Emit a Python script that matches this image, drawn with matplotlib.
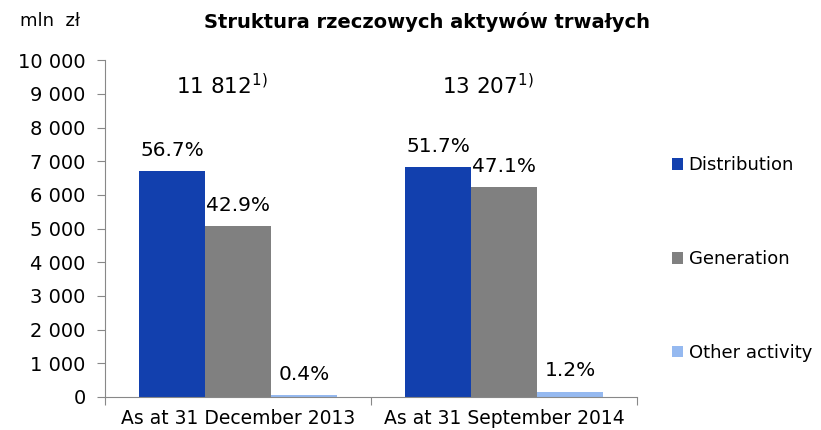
import numpy as np
import matplotlib.pyplot as plt

categories = ['As at 31 December 2013', 'As at 31 September 2014']
totals = ['11 812', '13 207']
series = ['Distribution', 'Generation', 'Other activity']
shares = {
    'Distribution': [56.7, 51.7],
    'Generation': [42.9, 47.1],
    'Other activity': [0.4, 1.2],
}
total_values = [11812, 13207]
colors = ['#1240ae', '#808080', '#95b9f0']

plt.rcParams['font.family'] = 'DejaVu Sans'

fig = plt.figure(figsize=(8.21, 4.30), dpi=100)
ax = fig.add_axes([0.128, 0.077, 0.648, 0.783])

x = np.arange(len(categories))
w = 0.248
for i, name in enumerate(series):
    vals = [t * s / 100 for t, s in zip(total_values, shares[name])]
    pos = x + (i - 1) * w
    ax.bar(pos, vals, w, color=colors[i], label=name)
    for p, v, s in zip(pos, vals, shares[name]):
        ax.annotate(f'{s:.1f}%', (p, v), xytext=(0, 8), textcoords='offset points',
                    ha='center', va='bottom', fontsize=14.5)

for xi, t in zip(x, totals):
    ax.text(xi - 0.06, 9260, t + r'$^{1)}$', ha='center', va='center', fontsize=15.5)

ax.set_xlim(-0.5, 1.5)
ax.set_ylim(0, 10000)
ax.set_yticks(np.arange(0, 10001, 1000))
ax.set_yticklabels([f'{v:,}'.replace(',', ' ') for v in range(0, 10001, 1000)], fontsize=14)
ax.set_xticks([-0.5, 0.5, 1.5], minor=False)
ax.set_xticklabels([])
ax.set_xticks(x, minor=True)
ax.set_xticklabels(categories, minor=True, fontsize=13.5)
ax.tick_params(axis='x', which='minor', length=0, pad=9)
ax.tick_params(axis='x', which='major', length=6, color='#888888', direction='out')
ax.tick_params(axis='y', length=6, color='#888888', direction='out', pad=8)
for side in ['top', 'right']:
    ax.spines[side].set_visible(False)
for side in ['left', 'bottom']:
    ax.spines[side].set_color('#888888')

fig.text(0.024, 0.95, 'mln  zł', fontsize=13, va='center')
fig.text(0.52, 0.95, 'Struktura rzeczowych aktywów trwałych', fontsize=14,
         fontweight='bold', ha='center', va='center')

handles, labels = ax.get_legend_handles_labels()
leg = fig.legend(handles, labels, loc='center left', bbox_to_anchor=(0.819, 0.397),
                 frameon=False, fontsize=13, handlelength=0.6, handleheight=0.6,
                 handletextpad=0.3, labelspacing=4.2, borderaxespad=0, borderpad=0)

fig.savefig('out.png', dpi=100)
